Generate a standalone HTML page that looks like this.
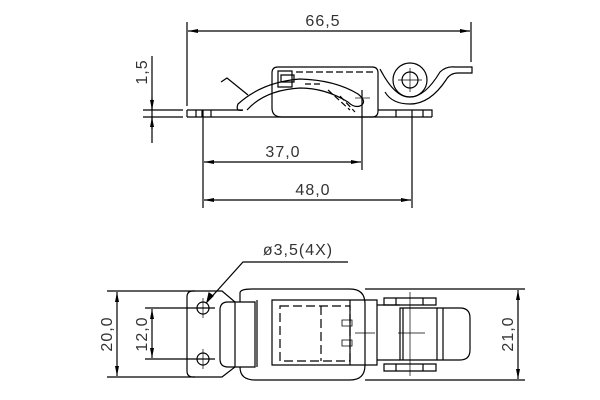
<!DOCTYPE html>
<html><head><meta charset="utf-8"><style>html,body{margin:0;padding:0;background:#fff}svg{display:block}</style></head>
<body>
<svg width="600" height="400" viewBox="0 0 600 400" xmlns="http://www.w3.org/2000/svg" fill="none" stroke="#000" stroke-width="1.2" font-family="Liberation Sans, sans-serif">
<defs>
<marker id="a" viewBox="0 0 10 4" refX="10" refY="2" markerWidth="10" markerHeight="4" orient="auto-start-reverse" markerUnits="userSpaceOnUse"><path d="M0,0 L10,2 L0,4z" fill="#000" stroke="none"/></marker>
</defs>
<g font-size="16" letter-spacing="1" fill="#333" stroke="none" text-anchor="middle">
<text x="323" y="26">66,5</text>
<text transform="translate(147,72) rotate(-90)">1,5</text>
<text x="283" y="157">37,0</text>
<text x="313" y="195">48,0</text>
<text x="298" y="255">ø3,5(4X)</text>
<text transform="translate(112,334) rotate(-90)">20,0</text>
<text transform="translate(147,334) rotate(-90)">12,0</text>
<text transform="translate(513,334) rotate(-90)">21,0</text>
</g>
<!-- TOP VIEW -->
<line x1="187" y1="22" x2="187" y2="106"/>
<line x1="471" y1="22" x2="471" y2="62"/>
<line x1="188" y1="31" x2="470" y2="31" marker-start="url(#a)" marker-end="url(#a)"/>
<line x1="143" y1="110" x2="183" y2="110"/>
<line x1="143" y1="117" x2="183" y2="117"/>
<line x1="152" y1="56" x2="152" y2="143"/>
<line x1="152" y1="98" x2="152" y2="110" marker-end="url(#a)"/>
<line x1="152" y1="129" x2="152" y2="117" marker-end="url(#a)"/>
<path d="M187,110 H243 M187,117 H432 M187,110 V117"/>
<line x1="196" y1="110" x2="196" y2="117"/><line x1="202" y1="110" x2="202" y2="117"/><line x1="211" y1="110" x2="211" y2="117"/>
<path d="M221,82 L227,78 L248,95 M243,110 Q235,112 238,104 Q262,82 300,79 Q335,80 358,94 Q368,102 360,106 Q354,108 348,102 Q325,88 300,88 Q265,90 247,110"/>
<path d="M272,73 Q272,67 278,67 H372 Q378,67 378,73 V111 Q378,117 372,117 H282 Q272,117 272,108 Z"/>
<path d="M278,71 H292 V87 H278 Z M281,75 H294 V82 H281 Z"/>
<path d="M296,72 H375" stroke-dasharray="7,3"/>
<path d="M305,84 H320 M328,90 L350,110 M340,96 L355,112" stroke-dasharray="6,3"/>
<line x1="355" y1="98" x2="370" y2="98" stroke-width="0.7"/><line x1="362" y1="90" x2="362" y2="170"/>
<circle cx="410" cy="80" r="17"/>
<circle cx="410" cy="80" r="8"/>
<line x1="398" y1="80" x2="422" y2="80" stroke-width="0.7"/><line x1="410" y1="68" x2="410" y2="92" stroke-width="0.7"/>
<path d="M380,69 Q395,98 410,97 Q425,97 440,72 Q446,66 455,67 H472 V73 H458 Q450,73 446,80 Q430,104 410,104 Q392,104 385,92"/>
<path d="M378,110 H432 V117" />
<line x1="396" y1="110" x2="396" y2="117"/><line x1="423" y1="110" x2="423" y2="117"/>
<line x1="203" y1="110" x2="203" y2="208"/>
<line x1="412" y1="110" x2="412" y2="208"/>
<line x1="204" y1="162" x2="361" y2="162" marker-start="url(#a)" marker-end="url(#a)"/>
<line x1="204" y1="200" x2="411" y2="200" marker-start="url(#a)" marker-end="url(#a)"/>
<!-- BOTTOM VIEW -->
<line x1="107" y1="291" x2="195" y2="291"/>
<line x1="107" y1="377" x2="195" y2="377"/>
<line x1="117" y1="292" x2="117" y2="376" marker-start="url(#a)" marker-end="url(#a)"/>
<line x1="145" y1="308" x2="215" y2="308"/>
<line x1="145" y1="359" x2="215" y2="359"/>
<line x1="152" y1="309" x2="152" y2="358" marker-start="url(#a)" marker-end="url(#a)"/>
<path d="M193,291 H222 L235,302 V367 L222,377 H193 Q187,377 187,371 V297 Q187,291 193,291Z"/>
<circle cx="203" cy="308" r="6"/><circle cx="203" cy="359" r="6"/>
<path d="M203,298 V318 M193,308 H213 M203,349 V369 M193,359 H213" stroke-width="0.7"/>
<path d="M207,302 L243,262 H348"/>
<path d="M207,302 L209,293 L213,296 Z" fill="#000"/>
<path d="M228,302 H255 V367 H228 Q220,367 220,359 V310 Q220,302 228,302Z"/>
<path d="M240,302 V293 Q240,289 252,289 H350 Q365,289 365,304 V365 Q365,380 350,380 H255 Q240,380 240,367"/>
<path d="M272,300 H377 V365 H272 Z"/>
<line x1="257" y1="300" x2="257" y2="367"/>
<line x1="350" y1="300" x2="350" y2="365"/>
<path d="M280,306 H350 V361 H280 Z M321,306 V361" stroke-dasharray="9,4"/>
<path d="M342,320 H352 V326 H342Z M342,340 H352 V346 H342Z" stroke-width="0.8"/>
<path d="M355,333 H375 M365,318 V350" stroke-width="0.7"/>
<path d="M377,305 H400 M377,360 H400"/>
<path d="M384,298 H436 V305 H384Z M384,364 H436 V371 H384Z"/>
<path d="M396,298 V305 M423,298 V305 M396,364 V371 M423,364 V371"/>
<path d="M400,308 H437 V360 H400Z M403,308 V360"/>
<line x1="410" y1="292" x2="410" y2="376" stroke-width="0.7"/>
<line x1="398" y1="333" x2="425" y2="333" stroke-width="0.7"/>
<path d="M437,308 H460 Q470,308 470,318 V350 Q470,360 460,360 H437" />
<line x1="443" y1="308" x2="443" y2="360"/>
<line x1="365" y1="289" x2="525" y2="289"/>
<line x1="365" y1="380" x2="525" y2="380"/>
<line x1="518" y1="290" x2="518" y2="379" marker-start="url(#a)" marker-end="url(#a)"/>
</svg>
</body></html>
